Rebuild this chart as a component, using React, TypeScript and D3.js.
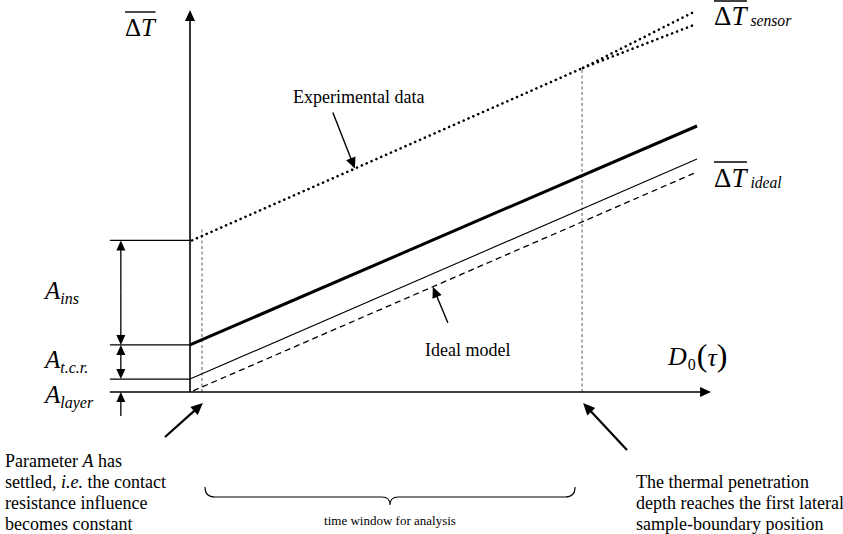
import React from 'react'
import * as d3 from 'd3'

const width = 843
const height = 534
const serif = 'Liberation Serif, Times New Roman, DejaVu Serif, serif'

// schematic units: time along x, mean temperature rise along y
const timeDomain = [0, 100]
const tempDomain = [0, 100]

const idealModel = [{ t: 0.6, v: 0.3 }, { t: 97.5, v: 57.9 }]
const withLayer = [{ t: 0, v: 3.4 }, { t: 97.5, v: 61.3 }]
const withContact = [{ t: 0, v: 12.4 }, { t: 97.5, v: 70.0 }]
const experimental = [{ t: 0.4, v: 39.9 }, { t: 75.6, v: 85.3 }]
const experimentalUpper = [{ t: 75.6, v: 85.3 }, { t: 97.3, v: 100.3 }]
const experimentalLower = [{ t: 75.6, v: 85.3 }, { t: 97.3, v: 96.8 }]

const windowStart = 2.3
const windowEnd = 75.4

// tops of the offset bands: A_layer, A_t.c.r., A_ins
const offsetLevels = [3.4, 12.4, 39.9]

const leftNote = ['Parameter |A| has', 'settled, |i.e.| the contact', 'resistance influence', 'becomes constant']
const rightNote = ['The thermal penetration', 'depth reaches the first lateral', 'sample-boundary position']

function valueAt(series: { t: number; v: number }[], t: number) {
  const a = series[0]
  const b = series[series.length - 1]
  return a.v + (b.v - a.v) * (t - a.t) / (b.t - a.t)
}

function arrowHead(tipX: number, tipY: number, fromX: number, fromY: number, len = 10, half = 4.5) {
  const ang = Math.atan2(tipY - fromY, tipX - fromX)
  const bx = tipX - len * Math.cos(ang)
  const by = tipY - len * Math.sin(ang)
  const px = -Math.sin(ang) * half
  const py = Math.cos(ang) * half
  return `M${tipX},${tipY}L${bx + px},${by + py}L${bx - px},${by - py}Z`
}

function Arrow({ x1, y1, x2, y2, w = 1.5, len = 10, half = 4.5 }: any) {
  const ang = Math.atan2(y2 - y1, x2 - x1)
  const ex = x2 - (len - 1) * Math.cos(ang)
  const ey = y2 - (len - 1) * Math.sin(ang)
  return (
    <g>
      <line x1={x1} y1={y1} x2={ex} y2={ey} stroke="#000" strokeWidth={w} />
      <path d={arrowHead(x2, y2, x1, y1, len, half)} fill="#000" />
    </g>
  )
}

function RichLine({ text, x, y }: { text: string; x: number; y: number }) {
  const parts = text.split('|')
  return (
    <text x={x} y={y} fontSize={18} fill="#000">
      {parts.map((p, i) => (
        <tspan key={i} fontStyle={i % 2 === 1 ? 'italic' : 'normal'}>{p}</tspan>
      ))}
    </text>
  )
}

function DeltaT({ x, y, size, sub, overY }: { x: number; y: number; size: number; sub?: string; overY: number }) {
  const w = size * 1.22
  return (
    <g fill="#000">
      <line x1={x} x2={x + w} y1={overY} y2={overY} stroke="#000" strokeWidth={1.4} />
      <text x={x} y={y} fontSize={size}>
        <tspan>Δ</tspan>
        <tspan fontStyle="italic">T</tspan>
        {sub && <tspan fontSize={size * 0.58} fontStyle="italic" dx={4} dy={1}>{sub}</tspan>}
      </text>
    </g>
  )
}

export default function App() {
  const x = d3.scaleLinear().domain(timeDomain).range([190, 710])
  const y = d3.scaleLinear().domain(tempDomain).range([392, 12])
  const line = d3.line<{ t: number; v: number }>().x(d => x(d.t)).y(d => y(d.v))

  const x0 = x(0)
  const y0 = y(0)
  const bandLeft = x(-15.4)
  const bandArrowX = x(-13.3)
  const levels = [0, ...offsetLevels].map(v => y(v))

  const startX = x(windowStart)
  const endX = x(windowEnd)

  const expTipT = 31.7
  const expTip = [x(expTipT), y(valueAt(experimental, expTipT))]
  const idealTipT = 46.7
  const idealTip = [x(idealTipT), y(valueAt(idealModel, idealTipT))]

  const braceL = startX + 3
  const braceR = endX - 7
  const braceM = (braceL + braceR) / 2
  const braceTop = 487
  const braceMid = 497
  const brace = `M${braceL},${braceTop} Q${braceL},${braceMid} ${braceL + 10},${braceMid} L${braceM - 8},${braceMid} Q${braceM},${braceMid} ${braceM},${braceMid + 8} Q${braceM},${braceMid} ${braceM + 8},${braceMid} L${braceR - 10},${braceMid} Q${braceR},${braceMid} ${braceR},${braceTop}`

  return (
    <svg width={width} height={height} viewBox={`0 0 ${width} ${height}`} style={{ position: 'absolute', left: 0, top: 0, background: '#fff', fontFamily: serif }}>
      {/* window markers */}
      <line x1={startX} x2={startX} y1={y0} y2={y(valueAt(experimental, windowStart)) - 9} stroke="#777" strokeWidth={1.2} strokeDasharray="3,2.5" />
      <line x1={endX} x2={endX} y1={y0} y2={y(valueAt(experimental, windowEnd))} stroke="#777" strokeWidth={1.2} strokeDasharray="3,2.5" />

      {/* curves */}
      <path d={line(idealModel) || ''} fill="none" stroke="#000" strokeWidth={1.3} strokeDasharray="6,4" />
      <path d={line(withLayer) || ''} fill="none" stroke="#000" strokeWidth={1.1} />
      <path d={line(withContact) || ''} fill="none" stroke="#000" strokeWidth={3} />
      {[experimental, experimentalUpper, experimentalLower].map((s, i) => (
        <path key={i} d={line(s) || ''} fill="none" stroke="#000" strokeWidth={2.6} strokeLinecap="round" strokeDasharray="0.1,5.2" />
      ))}

      {/* axes */}
      <Arrow x1={x0} y1={y0} x2={x0} y2={10} w={1.6} len={11} half={5} />
      <Arrow x1={bandLeft} y1={y0} x2={x(100.2)} y2={y0} w={1.6} len={11} half={5} />

      {/* offset bands */}
      {levels.slice(1).map((ly, i) => (
        <line key={i} x1={bandLeft} x2={x0} y1={ly} y2={ly} stroke="#000" strokeWidth={1.3} />
      ))}
      <Arrow x1={bandArrowX} y1={(levels[3] + levels[2]) / 2} x2={bandArrowX} y2={levels[3]} w={1.3} />
      <Arrow x1={bandArrowX} y1={(levels[3] + levels[2]) / 2} x2={bandArrowX} y2={levels[2]} w={1.3} />
      <Arrow x1={bandArrowX} y1={(levels[2] + levels[1]) / 2} x2={bandArrowX} y2={levels[2]} w={1.3} />
      <Arrow x1={bandArrowX} y1={(levels[2] + levels[1]) / 2} x2={bandArrowX} y2={levels[1]} w={1.3} />
      <Arrow x1={bandArrowX} y1={y0 + 24} x2={bandArrowX} y2={y0} w={1.3} />

      <g fill="#000" fontStyle="italic">
        <text x={45} y={(levels[3] + levels[2]) / 2 + 6} fontSize={25}>A<tspan fontSize={16} dy={5}>ins</tspan></text>
        <text x={45} y={(levels[2] + levels[1]) / 2 + 6} fontSize={25}>A<tspan fontSize={16} dy={5}>t.c.r.</tspan></text>
        <text x={45} y={y0 + 11} fontSize={25}>A<tspan fontSize={16} dy={5}>layer</tspan></text>
      </g>

      {/* axis labels */}
      <DeltaT x={125} y={36} size={25} overY={12} />
      <DeltaT x={714} y={25} size={27} sub="sensor" overY={1} />
      <DeltaT x={714} y={187} size={27} sub="ideal" overY={162} />
      <text x={668} y={365} fontSize={26} fill="#000">
        <tspan fontStyle="italic">D</tspan>
        <tspan fontSize={16} dy={5} dx={1}>0</tspan>
        <tspan fontSize={32} dy={-4} dx={1}>(</tspan>
        <tspan fontStyle="italic">τ</tspan>
        <tspan fontSize={32}>)</tspan>
      </text>

      {/* callouts */}
      <text x={293} y={103} fontSize={18} fill="#000">Experimental data</text>
      <Arrow x1={expTip[0] - 22} y1={expTip[1] - 56} x2={expTip[0]} y2={expTip[1]} w={1.4} len={11} half={5} />
      <text x={425} y={356} fontSize={18} fill="#000">Ideal model</text>
      <Arrow x1={idealTip[0] + 15} y1={idealTip[1] + 36} x2={idealTip[0]} y2={idealTip[1]} w={1.4} len={11} half={5} />

      <Arrow x1={165} y1={437} x2={startX + 1} y2={403} w={2.2} len={12} half={5.5} />
      <Arrow x1={627} y1={450} x2={endX + 1} y2={403} w={2.2} len={12} half={5.5} />

      {/* time window */}
      <path d={brace} fill="none" stroke="#000" strokeWidth={1.1} />
      <text x={braceM} y={525} textAnchor="middle" fontSize={13} fill="#000">time window for analysis</text>

      {leftNote.map((t, i) => <RichLine key={i} text={t} x={5} y={467 + i * 21} />)}
      {rightNote.map((t, i) => <RichLine key={i} text={t} x={636} y={488 + i * 21} />)}
    </svg>
  )
}
